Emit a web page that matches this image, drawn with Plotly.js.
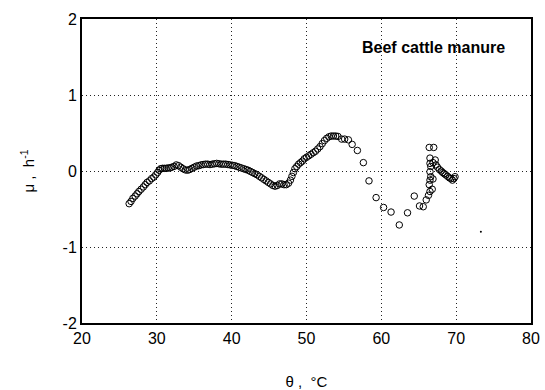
<!DOCTYPE html>
<html>
<head>
<meta charset="utf-8">
<script src="https://cdn.plot.ly/plotly-3.0.1.min.js"></script>
<style>html,body{margin:0;padding:0;background:#fff;}#chart{width:545px;height:390px;}</style>
</head>
<body>
<div id="chart"></div>
<script>
// Temperature (°C)
const theta = [
  26.3, 26.55, 26.8, 27.1, 27.35, 27.6, 27.9, 28.2, 28.45, 28.7,
  29.0, 29.3, 29.6, 29.85, 30.1, 30.3, 30.5, 30.75, 31.0, 31.25,
  31.5, 31.75, 32.0, 32.3, 32.6, 32.9, 33.2, 33.5, 33.8, 34.1,
  34.4, 34.7, 35.0, 35.3, 35.6, 35.9, 36.2, 36.5, 36.8, 37.1,
  37.4, 37.7, 38.0, 38.3, 38.6, 38.9, 39.2, 39.5, 39.8, 40.1,
  40.4, 40.7, 41.0, 41.3, 41.6, 41.9, 42.2, 42.5, 42.8, 43.1,
  43.4, 43.7, 44.0, 44.3, 44.6, 44.9, 45.2, 45.5, 45.8, 46.1,
  46.4, 46.7, 47.0, 47.3, 47.6, 47.85, 48.05, 48.25, 48.45, 48.7,
  48.95, 49.2, 49.45, 49.7, 50.0, 50.3, 50.6, 50.9, 51.2, 51.5,
  51.8, 52.1, 52.4, 52.7, 53.0, 53.3, 53.6, 53.9, 54.2, 54.7,
  55.1, 55.6, 56.1, 56.8, 57.6, 58.35, 59.3, 60.3, 61.3, 62.4,
  63.5, 64.4, 65.1, 65.6, 66.0, 66.3, 66.5, 66.8, 66.4, 66.9,
  66.5, 66.6, 66.5, 66.6, 66.5, 66.5, 66.4, 67.0, 67.2, 66.9,
  67.3, 67.5, 67.75, 68.0, 68.2, 68.4, 68.6, 68.85, 69.1, 69.3,
  69.5, 69.7, 69.85
];
// Specific growth rate (h^-1)
const mu = [
  -0.43, -0.40, -0.36, -0.33, -0.30, -0.27, -0.24, -0.21, -0.18, -0.15,
  -0.13, -0.10, -0.08, -0.05, -0.02, 0.01, 0.03, 0.035, 0.035, 0.035,
  0.04, 0.04, 0.05, 0.06, 0.08, 0.07, 0.05, 0.03, 0.015, 0.01,
  0.02, 0.035, 0.05, 0.065, 0.07, 0.08, 0.085, 0.09, 0.09, 0.085,
  0.09, 0.095, 0.10, 0.095, 0.09, 0.09, 0.09, 0.085, 0.08, 0.075,
  0.07, 0.06, 0.05, 0.04, 0.03, 0.02, 0.01, -0.005, -0.02, -0.035,
  -0.05, -0.07, -0.09, -0.11, -0.13, -0.15, -0.17, -0.19, -0.20, -0.19,
  -0.17, -0.17, -0.18, -0.18, -0.16, -0.12, -0.07, -0.02, 0.03, 0.06,
  0.09, 0.11, 0.13, 0.16, 0.18, 0.20, 0.22, 0.24, 0.26, 0.29,
  0.32, 0.36, 0.40, 0.43, 0.45, 0.46, 0.46, 0.46, 0.455, 0.42,
  0.42, 0.41, 0.35, 0.27, 0.11, -0.13, -0.35, -0.48, -0.54, -0.71,
  -0.55, -0.33, -0.46, -0.47, -0.38, -0.32, -0.27, -0.24, -0.18, -0.105,
  -0.12, -0.075, -0.01, 0.06, 0.10, 0.17, 0.31, 0.31, 0.145, 0.11,
  0.08, 0.05, 0.02, 0.0, -0.02, -0.035, -0.05, -0.07, -0.09, -0.10,
  -0.12, -0.10, -0.075
];
// Isolated small dot
const thetaDot = [73.3];
const muDot = [-0.80];

const xTicks = [20, 30, 40, 50, 60, 70, 80];
const yTicks = [-2, -1, 0, 1, 2];

const font = 'Liberation Sans, Arial, sans-serif';

const traces = [
  {x: theta, y: mu, type: 'scatter', mode: 'markers',
   marker: {symbol: 'circle-open', size: 6.5, color: '#000', line: {width: 1, color: '#000'}},
   showlegend: false, hoverinfo: 'x+y'},
  {x: thetaDot, y: muDot, type: 'scatter', mode: 'markers',
   marker: {symbol: 'circle', size: 2, color: '#000'}, showlegend: false}
];

const layout = {
  width: 545, height: 390,
  margin: {l: 82, r: 14, t: 19, b: 67},
  paper_bgcolor: '#fff', plot_bgcolor: '#fff',
  showlegend: false,
  font: {family: font, size: 15, color: '#000'},
  xaxis: {
    range: [20, 80], tickvals: xTicks, ticktext: xTicks.map(String),
    showgrid: true, gridcolor: '#222', griddash: '1px,3px', gridwidth: 1,
    zeroline: false, showline: true, linecolor: '#000', linewidth: 2, mirror: true,
    ticks: '', ticklen: 0, tickfont: {family: font, size: 16, color: '#000'},
    title: {text: 'θ ,  °C', font: {family: font, size: 15, color: '#000'}, standoff: 30}
  },
  yaxis: {
    range: [-2, 2], tickvals: yTicks, ticktext: yTicks.map(String),
    showgrid: true, gridcolor: '#222', griddash: '1px,3px', gridwidth: 1,
    zeroline: false, showline: true, linecolor: '#000', linewidth: 2, mirror: true,
    ticks: '', ticklen: 0, tickfont: {family: font, size: 16, color: '#000'},
    title: {text: 'μ ,  h<sup>-1</sup>', font: {family: font, size: 15, color: '#000'}, standoff: 24}
  },
  annotations: [
    {text: '<b>Beef cattle manure</b>', xref: 'paper', yref: 'paper', x: 0.947, y: 0.905,
     xanchor: 'right', yanchor: 'middle', showarrow: false,
     font: {family: font, size: 16, color: '#000'}}
  ]
};

Plotly.newPlot('chart', traces, layout, {displayModeBar: false, staticPlot: true});
</script>
</body>
</html>
